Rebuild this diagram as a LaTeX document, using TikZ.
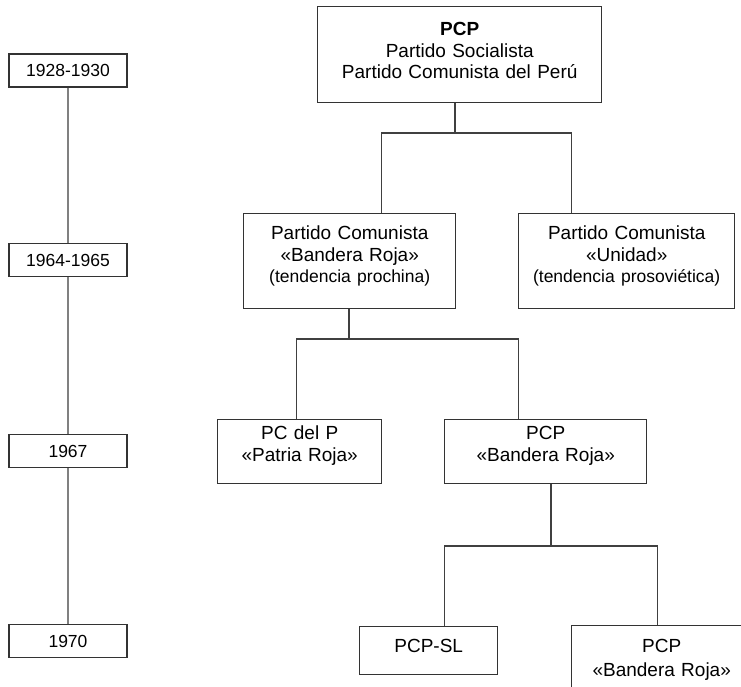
\documentclass[tikz,border=0pt]{standalone}
\usepackage{fontspec}
\setmainfont{Liberation Sans}
\usepackage{tikz}

\newcommand{\tendfont}{\fontsize{17.5}{21.5}\selectfont}

\begin{document}
\begin{tikzpicture}[x=1pt, y=-1pt,
        year/.style={draw=black!80, line width=1.4pt, fill=white, minimum width=118pt, minimum height=33pt, inner sep=0pt, font=\fontsize{17.5}{21}\selectfont},
        party/.style={draw=black!80, line width=1.4pt, fill=white, text width=#1, align=center, inner sep=0pt, anchor=north west, font=\fontsize{19}{21.5}\selectfont},
        link/.style={draw=black!75, line width=1.4pt},
        timeline/.style={draw=black!50, line width=2.6pt}]
        \useasboundingbox (0,0) rectangle (741,687);
        \clip (0,0) rectangle (741,687);

        % Draw the years on the left
        \node[year] (y1928) at (68,70.5) {1928-1930};
        \node[year] (y1964) at (68,260) {1964-1965};
        \node[year] (y1967) at (68,451) {1967};
        \node[year] (y1970) at (68,641) {1970};
        \draw[timeline] (y1928) -- (y1964) -- (y1967) -- (y1970);

        % Draw the parties
        \node[party=284pt, text height=29pt, text depth=67pt] (pcp) at (317,6) {\textbf{PCP}\\Partido Socialista\\Partido Comunista del Perú};
        \node[party=212pt, text height=26pt, text depth=69pt] (pcbr) at (243,213) {Partido Comunista\\«Bandera Roja»\\{\tendfont(tendencia prochina)}};
        \node[party=216pt, text height=26pt, text depth=69pt] (pcu) at (518,213) {Partido Comunista\\«Unidad»\\{\tendfont(tendencia prosoviética)}};
        \node[party=164pt, text height=20pt, text depth=44pt] (pcpr) at (217,419) {PC del P\\«Patria Roja»};
        \node[party=202pt, text height=20pt, text depth=44pt] (pcpbr) at (444,419) {PCP\\«Bandera Roja»};
        \node[party=138pt, text height=26pt, text depth=22pt] (sl) at (359,626) {PCP-SL};
        \node[party=180pt, text height=27pt, text depth=60pt] (pcpbr2) at (571,625) {PCP\\[2pt]«Bandera Roja»};

        % Draw the splits
        \coordinate (j1) at (455,133);
        \coordinate (j2) at (349,339);
        \coordinate (j3) at (551,546);
        \draw[link] (pcp.south -| j1) -- (j1);
        \draw[link] ([xshift=32pt]pcbr.north) |- (j1) -| ([xshift=-55pt]pcu.north);
        \draw[link] (pcbr.south -| j2) -- (j2);
        \draw[link] ([xshift=-3pt]pcpr.north) |- (j2) -| ([xshift=-27pt]pcpbr.north);
        \draw[link] (pcpbr.south -| j3) -- (j3);
        \draw[link] ([xshift=16pt]sl.north) |- (j3) -| ([xshift=-4pt]pcpbr2.north);
\end{tikzpicture}
\end{document}
